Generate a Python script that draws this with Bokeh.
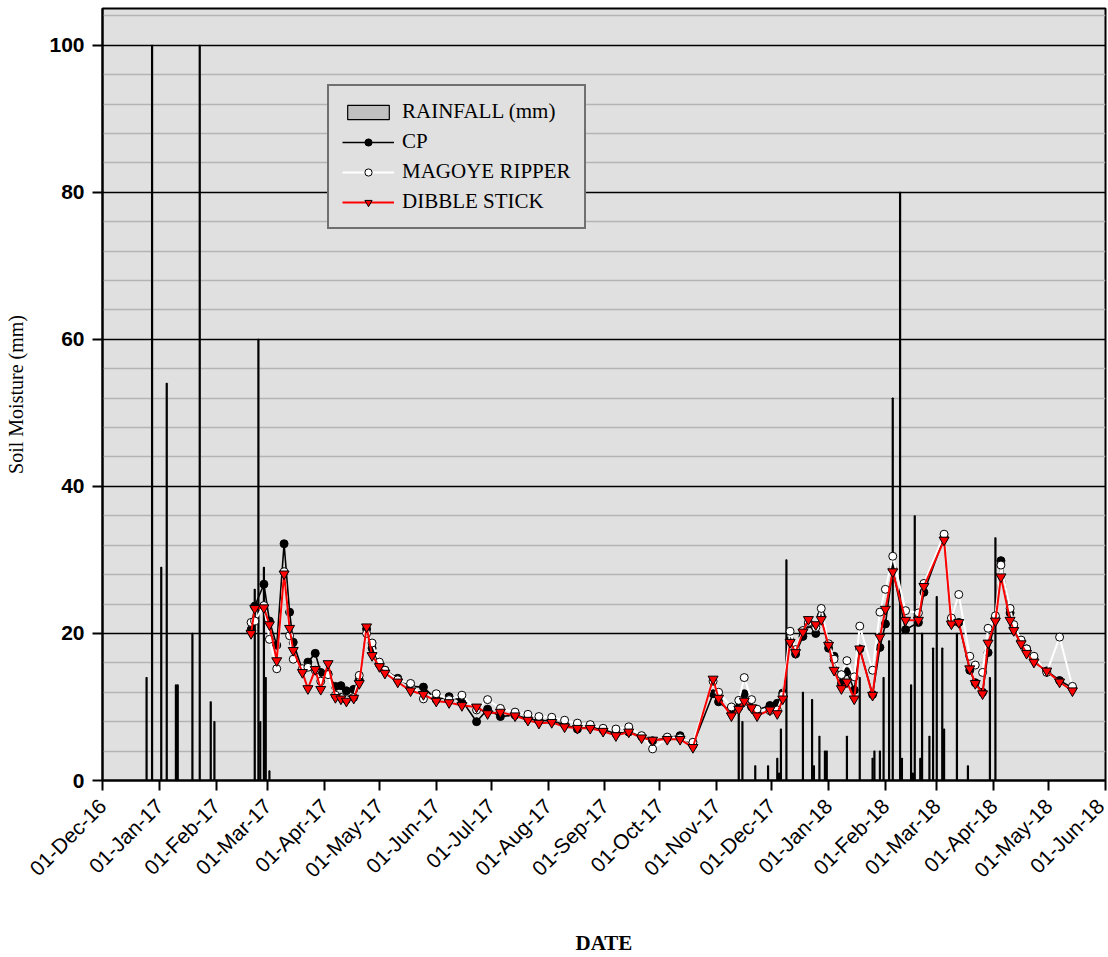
import math
import pandas as pd
from bokeh.plotting import figure
from bokeh.models import (FixedTicker, MonthsTicker, DatetimeTickFormatter, Legend,
                          LegendItem, Range1d, ColumnDataSource)
from bokeh.embed import file_html
from bokeh.resources import INLINE

# ---------------- data ----------------
rain_dates = ["2016-12-25", "2016-12-28", "2017-01-02", "2017-01-05", "2017-01-10", "2017-01-11",
              "2017-01-19", "2017-01-23", "2017-01-29", "2017-01-31", "2017-02-22", "2017-02-24",
              "2017-02-25", "2017-02-27", "2017-02-28", "2017-03-02",
              "2017-11-13", "2017-11-15", "2017-11-22", "2017-11-29", "2017-12-04", "2017-12-05",
              "2017-12-06", "2017-12-09", "2017-12-18", "2017-12-23", "2017-12-24", "2017-12-27",
              "2017-12-30", "2017-12-31",
              "2018-01-11", "2018-01-18", "2018-01-25", "2018-01-26", "2018-01-29", "2018-01-31",
              "2018-02-03", "2018-02-05", "2018-02-09", "2018-02-10", "2018-02-15", "2018-02-16",
              "2018-02-17", "2018-02-20", "2018-02-21", "2018-02-25", "2018-02-27", "2018-03-01",
              "2018-03-04", "2018-03-05", "2018-03-12", "2018-03-18", "2018-03-30", "2018-04-02"]
rain_mm = [14, 100, 29, 54, 13, 13,
           20, 100, 10.7, 8, 26, 60,
           8, 29, 14, 1.3,
           10.2, 8, 2, 2, 3, 1,
           7, 30, 12, 11, 2, 6,
           4, 4,
           6, 14, 3, 4, 4, 14,
           19, 52, 80, 3, 13, 1,
           36, 3, 20, 6, 18, 25,
           18, 7, 20, 2, 14, 33]

sm_dates = ["2017-02-20", "2017-02-22", "2017-02-27", "2017-03-02", "2017-03-06", "2017-03-10",
            "2017-03-13", "2017-03-15", "2017-03-20", "2017-03-23", "2017-03-27", "2017-03-30",
            "2017-04-03", "2017-04-07", "2017-04-10", "2017-04-13", "2017-04-17", "2017-04-20",
            "2017-04-24", "2017-04-27", "2017-05-01", "2017-05-04", "2017-05-11", "2017-05-18",
            "2017-05-25", "2017-06-01", "2017-06-08", "2017-06-15", "2017-06-23", "2017-06-29",
            "2017-07-06", "2017-07-14", "2017-07-21", "2017-07-27", "2017-08-03", "2017-08-10",
            "2017-08-17", "2017-08-24", "2017-08-31", "2017-09-07", "2017-09-14", "2017-09-21",
            "2017-09-27", "2017-10-05", "2017-10-12", "2017-10-19", "2017-10-30", "2017-11-02",
            "2017-11-09", "2017-11-13", "2017-11-16", "2017-11-20", "2017-11-23", "2017-11-30",
            "2017-12-04", "2017-12-07", "2017-12-11", "2017-12-14", "2017-12-18", "2017-12-21",
            "2017-12-25", "2017-12-28", "2018-01-01", "2018-01-04", "2018-01-08", "2018-01-11",
            "2018-01-15", "2018-01-18", "2018-01-25", "2018-01-29", "2018-02-01", "2018-02-05",
            "2018-02-12", "2018-02-19", "2018-02-22", "2018-03-05", "2018-03-09", "2018-03-13",
            "2018-03-19", "2018-03-22", "2018-03-26", "2018-03-29", "2018-04-02", "2018-04-05",
            "2018-04-10", "2018-04-12", "2018-04-16", "2018-04-19", "2018-04-23", "2018-04-30",
            "2018-05-07", "2018-05-14"]
cp = [20.5, 23.7, 26.7, 21.7, 18.4, 32.2,
      22.9, 18.8, 15.0, 16.1, 17.3, 14.7,
      14.5, 12.8, 12.9, 12.2, 12.4, 13.7,
      20.6, 18.0, 15.8, 15.0, 13.9, 12.8,
      12.7, 11.0, 11.4, 10.9, 8.0, 9.7,
      8.7, 8.9, 8.4, 8.2, 8.1, 7.6,
      7.0, 7.3, 6.9, 6.4, 6.6, 6.0,
      5.4, 5.8, 6.1, 4.8, 11.8, 10.7,
      9.3, 10.0, 11.8, 10.0, 9.6, 10.2,
      10.5, 11.9, 19.0, 17.2, 19.6, 21.3,
      20.0, 22.4, 18.0, 16.9, 13.2, 14.8,
      12.3, 17.9, 11.7, 18.1, 21.3, 28.7,
      20.5, 21.5, 25.6, 33.1, 21.5, 21.5,
      15.0, 13.3, 12.0, 17.4, 22.0, 29.9,
      22.8, 20.8, 19.0, 17.9, 16.6, 14.9,
      13.6, 12.6]
mr = [21.5, 21.7, 23.8, 19.2, 15.2, 28.4,
      19.7, 16.5, 15.2, 15.4, 15.0, 13.5,
      14.4, 11.6, 11.3, 11.0, 11.3, 14.3,
      20.0, 18.7, 16.1, 15.0, 13.7, 13.2,
      11.1, 11.8, 11.0, 11.6, 9.6, 11.0,
      9.8, 9.3, 9.0, 8.7, 8.6, 8.2,
      7.8, 7.6, 7.1, 7.0, 7.3, 6.1,
      4.3, 5.9, 5.8, 5.2, 13.5, 12.0,
      10.0, 10.9, 14.0, 11.0, 9.7, 9.5,
      9.6, 11.6, 20.3, 17.8, 20.4, 21.5,
      20.8, 23.4, 18.6, 16.5, 14.4, 16.3,
      14.1, 21.0, 15.0, 22.9, 26.0, 30.5,
      23.1, 22.8, 26.8, 33.5, 22.1, 25.3,
      16.9, 15.7, 14.7, 20.7, 22.4, 29.3,
      23.4, 21.2, 19.1, 17.9, 16.9, 14.7,
      19.5, 12.8]
ds = [20.0, 23.4, 23.5, 21.2, 16.3, 28.1,
      20.7, 17.7, 14.7, 12.5, 15.1, 12.4,
      15.9, 11.3, 11.1, 10.8, 11.2, 13.2,
      20.9, 17.0, 15.5, 14.6, 13.4, 12.2,
      11.7, 10.8, 10.6, 10.2, 10.0, 9.1,
      9.3, 8.8, 8.2, 7.8, 7.9, 7.3,
      7.1, 7.1, 6.7, 6.1, 6.6, 5.8,
      5.5, 5.6, 5.6, 4.5, 13.8, 11.2,
      8.8, 9.7, 10.8, 9.9, 8.8, 9.6,
      9.1, 11.1, 18.8, 17.4, 20.2, 21.9,
      21.2, 21.9, 18.4, 15.0, 12.5, 13.4,
      11.1, 17.9, 11.6, 19.5, 23.3, 28.4,
      21.8, 21.8, 26.4, 32.7, 21.3, 21.5,
      15.2, 13.2, 11.8, 18.7, 21.7, 27.7,
      21.8, 20.4, 18.6, 17.3, 16.1, 14.9,
      13.4, 12.2]

y_major = [0, 20, 40, 60, 80, 100]
y_minor = [v for v in range(4, 105, 4) if v % 20 != 0]

# ---------------- figure ----------------
rain_src = ColumnDataSource(dict(x=pd.to_datetime(rain_dates), top=rain_mm))
sm_src = ColumnDataSource(dict(x=pd.to_datetime(sm_dates), cp=cp, mr=mr, ds=ds))

p = figure(width=1108, height=957, x_axis_type="datetime",
           x_range=Range1d(pd.Timestamp("2016-11-30 23:00"), pd.Timestamp("2018-06-01 01:00")),
           y_range=Range1d(0, 105),
           output_backend="svg", toolbar_location=None,
           min_border_left=102, min_border_right=3, min_border_top=8, min_border_bottom=177,
           background_fill_color="#e0e0e0", border_fill_color="white")

p.outline_line_color = "black"
p.outline_line_width = 2

# grids
p.xgrid.visible = False
p.ygrid.grid_line_color = "black"
p.ygrid.grid_line_width = 1.5
p.ygrid.minor_grid_line_color = "#b4b4b4"
p.ygrid.minor_grid_line_width = 1.5

# y axis
p.yaxis.ticker = FixedTicker(ticks=y_major, minor_ticks=y_minor)
p.yaxis.axis_label = "Soil Moisture (mm)"
p.yaxis.axis_label_text_font = "Liberation Serif"
p.yaxis.axis_label_text_font_style = "normal"
p.yaxis.axis_label_text_font_size = "20px"
p.yaxis.axis_label_standoff = 19
p.yaxis.major_label_text_font = "Liberation Sans"
p.yaxis.major_label_text_font_style = "bold"
p.yaxis.major_label_text_font_size = "21px"
p.yaxis.major_label_standoff = 8

# x axis
p.xaxis.ticker = MonthsTicker(months=list(range(12)))
fmt = "%d-%b-%y"
p.xaxis.formatter = DatetimeTickFormatter(microseconds=fmt, milliseconds=fmt, seconds=fmt,
                                          minsec=fmt, minutes=fmt, hourmin=fmt, hours=fmt,
                                          days=fmt, months=fmt, years=fmt)
p.xaxis.major_label_orientation = math.pi / 4
p.xaxis.major_label_text_font = "Liberation Sans"
p.xaxis.major_label_text_font_style = "normal"
p.xaxis.major_label_text_font_size = "21px"
p.xaxis.major_label_standoff = 12
p.xaxis.axis_label = "DATE"
p.xaxis.axis_label_text_font = "Liberation Serif"
p.xaxis.axis_label_text_font_style = "bold"
p.xaxis.axis_label_text_font_size = "21px"
p.xaxis.axis_label_standoff = 38

for ax in (p.xaxis, p.yaxis):
    ax.axis_line_width = 2
    ax.axis_line_color = "black"
    ax.major_tick_line_width = 2
    ax.major_tick_out = 10
    ax.major_tick_in = 0
    ax.minor_tick_out = 0
    ax.minor_tick_in = 0
    ax.major_label_text_color = "black"
    ax.axis_label_text_color = "black"

# rainfall bars
day_ms = 86400000
bars = p.vbar(x="x", top="top", width=0.55 * day_ms, source=rain_src,
              fill_color="#c0c0c0", line_color="black", line_width=1.2)

# soil moisture series
cp_l = p.line("x", "cp", source=sm_src, line_color="black", line_width=1.6)
cp_m = p.scatter("x", "cp", source=sm_src, marker="circle", size=8,
                 fill_color="black", line_color="black")
mr_l = p.line("x", "mr", source=sm_src, line_color="white", line_width=2)
mr_m = p.scatter("x", "mr", source=sm_src, marker="circle", size=8,
                 fill_color="white", line_color="black", line_width=1)
ds_l = p.line("x", "ds", source=sm_src, line_color="red", line_width=2)
ds_m = p.scatter("x", "ds", source=sm_src, marker="inverted_triangle", size=10,
                 fill_color="red", line_color="black", line_width=1)

legend = Legend(items=[
    LegendItem(label="RAINFALL (mm)", renderers=[bars]),
    LegendItem(label="CP", renderers=[cp_l, cp_m]),
    LegendItem(label="MAGOYE RIPPER", renderers=[mr_l, mr_m]),
    LegendItem(label="DIBBLE STICK", renderers=[ds_l, ds_m]),
], location=(225, 551))
legend.border_line_color = "black"
legend.border_line_width = 2
legend.background_fill_color = "#e0e0e0"
legend.background_fill_alpha = 1
legend.label_text_font = "Liberation Serif"
legend.label_text_font_size = "21px"
legend.label_text_color = "black"
legend.glyph_width = 52
legend.glyph_height = 18
legend.label_standoff = 8
legend.label_height = 20
legend.padding = 13
legend.spacing = 5
legend.margin = 0
p.add_layout(legend)

open("out.html", "w").write(file_html(p, INLINE))
